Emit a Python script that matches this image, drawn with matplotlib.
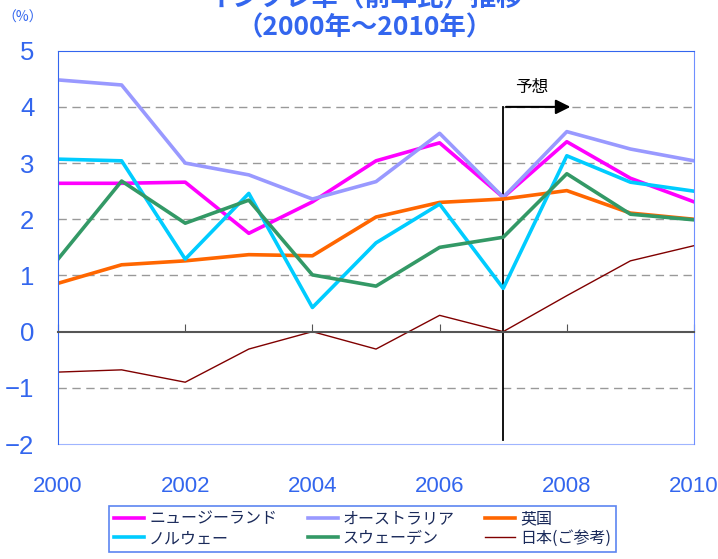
import matplotlib.pyplot as plt

plt.rcParams['font.family'] = ['Noto Sans CJK JP', 'DejaVu Sans']

years = list(range(2000, 2011))
nz = [2.64, 2.64, 2.66, 1.75, 2.31, 3.04, 3.36, 2.39, 3.38, 2.73, 2.31]
australia = [4.48, 4.39, 3.00, 2.79, 2.36, 2.67, 3.53, 2.39, 3.56, 3.25, 3.04]
uk = [0.86, 1.19, 1.26, 1.37, 1.35, 2.04, 2.30, 2.36, 2.51, 2.11, 2.00]
norway = [3.07, 3.04, 1.29, 2.46, 0.43, 1.58, 2.27, 0.77, 3.13, 2.66, 2.50]
sweden = [1.29, 2.68, 1.93, 2.34, 1.01, 0.81, 1.50, 1.68, 2.81, 2.09, 1.99]
japan = [-0.72, -0.68, -0.90, -0.31, 0.00, -0.31, 0.29, 0.00, 0.64, 1.26, 1.53]
forecast_start = 2007

blue = '#3366ee'

fig = plt.figure(figsize=(7.18, 5.59), dpi=100)
ax = fig.add_axes([0.0808, 0.2057, 0.8858, 0.7036])

l_nz, = ax.plot(years, nz, color='#ff00ff', lw=2.6, label='ニュージーランド')
l_au, = ax.plot(years, australia, color='#9999ff', lw=2.6, label='オーストラリア')
l_uk, = ax.plot(years, uk, color='#ff6600', lw=2.6, label='英国')
l_no, = ax.plot(years, norway, color='#00ccff', lw=2.6, label='ノルウェー')
l_sw, = ax.plot(years, sweden, color='#339966', lw=2.6, label='スウェーデン')
l_jp, = ax.plot(years, japan, color='#800000', lw=1.0, label='日本(ご参考)')

for g in [-1, 1, 2, 3, 4]:
    ax.axhline(g, color='#999999', lw=1.0, dashes=(6, 4), zorder=0)

ax.set_xlim(2000, 2010)
ax.set_ylim(-2, 5)

# forecast marker
ax.plot([forecast_start, forecast_start], [-1.93, 4.0], color='black', lw=1.3, zorder=1)
ax.annotate('', xy=(forecast_start + 1.1, 4.0), xytext=(forecast_start, 4.0),
            arrowprops=dict(arrowstyle='-|>', color='black', lw=1.5, mutation_scale=22))
ax.text(forecast_start + 0.45, 4.34, '予想', ha='center', va='center', fontsize=12, color='black')

# spines
ax.spines['left'].set_color(blue)
ax.spines['top'].set_color(blue)
ax.spines['right'].set_color('#6f8fff')
ax.spines['bottom'].set_position(('data', 0))
ax.spines['bottom'].set_color('#555555')
ax.spines['bottom'].set_linewidth(1.5)

ax.set_xticks(range(2000, 2011, 2))
ax.tick_params(axis='x', direction='in', length=6, color='#555555', labelbottom=False)
ax.set_yticks(range(-2, 6))
ax.set_yticklabels([str(v).replace('-', '−') for v in range(-2, 6)])
ax.tick_params(axis='y', length=0, pad=17, labelsize=18.5, labelcolor=blue)
for t in ax.get_yticklabels():
    t.set_family('Liberation Sans')

sec = ax.secondary_xaxis('bottom')
sec.set_xticks(range(2000, 2011, 2))
sec.spines['bottom'].set_color('#9fb5ff')
sec.tick_params(length=0, pad=23, labelsize=16, labelcolor=blue)
for t in sec.get_xticklabels():
    t.set_family('Liberation Sans')

fig.text(0.0318, 0.968, '（%）', ha='center', va='center', fontsize=10, color=blue)
fig.text(0.508, 1.002, 'インフレ率（前年比）推移', ha='center', va='center',
         fontsize=19, fontweight='bold', color=blue)
fig.text(0.508, 0.951, '（2000年～2010年）', ha='center', va='center',
         fontsize=19, fontweight='bold', color=blue)

handles = [l_nz, l_no, l_au, l_sw, l_uk, l_jp]
leg = fig.legend(handles, [h.get_label() for h in handles],
                 loc='center', bbox_to_anchor=(0.505, 0.054), ncol=3, fontsize=11.5,
                 frameon=True, fancybox=False, edgecolor=blue, handlelength=1.9,
                 handletextpad=0.3, columnspacing=1.9, labelspacing=0.15,
                 borderpad=0.3, labelcolor='#1a2a5a')
leg.get_frame().set_linewidth(1.2)

fig.savefig('out.png', dpi=100)
